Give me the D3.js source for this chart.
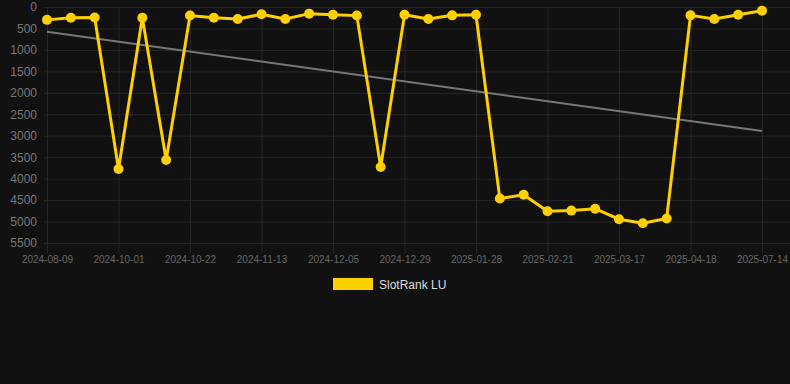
<!DOCTYPE html>
<html>
<head>
<meta charset="utf-8">
<script src="https://cdn.jsdelivr.net/npm/d3@7"></script>
<style>
  body { margin: 0; background: #111111; }
  text { font-family: "Liberation Sans", Arial, sans-serif; }
</style>
</head>
<body>
<div id="chart"></div>
<script>

// dates of each rank sample (every third one is labelled)
var dates = ["2024-08-09","2024-08-27","2024-09-14","2024-10-01","2024-10-08","2024-10-15",
  "2024-10-22","2024-10-29","2024-11-06","2024-11-13","2024-11-20","2024-11-28",
  "2024-12-05","2024-12-13","2024-12-21","2024-12-29","2025-01-08","2025-01-18",
  "2025-01-28","2025-02-05","2025-02-13","2025-02-21","2025-03-01","2025-03-09",
  "2025-03-17","2025-03-28","2025-04-08","2025-04-18","2025-05-17","2025-06-15","2025-07-14"]

var ranks = [300, 250, 245, 3775, 250, 3565, 200, 250, 280, 170, 280, 155,
  180, 200, 3730, 180, 280, 195, 180, 4465, 4375, 4760, 4745, 4700,
  4945, 5040, 4930, 195, 280, 180, 85]

var yTicks = [0, 500, 1000, 1500, 2000, 2500, 3000, 3500, 4000, 4500, 5000, 5500]

// trend line, first and last value
var trend = [575, 2890]

var seriesName = "SlotRank LU"

var width = 790, height = 384
var plotLeft = 47, plotRight = 762, plotTop = 7, plotBottom = 243

var svg = d3.select("#chart")
  .append("svg")
    .attr("width", width)
    .attr("height", height)

svg.append("rect")
  .attr("width", width)
  .attr("height", height)
  .attr("fill", "#111111")

var x = d3.scalePoint()
  .domain(dates)
  .range([plotLeft, plotRight])

var y = d3.scaleLinear()
  .domain([0, 5500])
  .range([plotTop, plotBottom])

// Y axis with horizontal grid
var yAxis = svg.append("g")
  .attr("transform", "translate(" + 44 + ",0)")
  .call(d3.axisLeft(y)
    .tickValues(yTicks)
    .tickFormat(d3.format("d"))
    .tickSize(-(width - 44))
    .tickPadding(7))
yAxis.select(".domain").remove()
yAxis.selectAll(".tick line").attr("stroke", "#262626")
yAxis.selectAll(".tick text")
  .attr("fill", "#777")
  .style("font-size", "12px")

// X axis with vertical grid at labelled dates
var xAxis = svg.append("g")
  .attr("transform", "translate(0," + 253 + ")")
  .call(d3.axisBottom(x)
    .tickValues(dates.filter(function(d, i) { return i % 3 === 0 }))
    .tickSize(-(253 - plotTop))
    .tickPadding(3))
xAxis.select(".domain").remove()
xAxis.selectAll(".tick line").attr("stroke", "#262626")
xAxis.selectAll(".tick text")
  .attr("fill", "#666")
  .style("font-size", "10px")

// trend line
svg.append("line")
  .attr("x1", x(dates[0]))
  .attr("y1", y(trend[0]))
  .attr("x2", x(dates[dates.length - 1]))
  .attr("y2", y(trend[1]))
  .attr("stroke", "#777")
  .attr("stroke-width", 2)

// rank line
var line = d3.line()
  .x(function(d, i) { return x(dates[i]) })
  .y(function(d) { return y(d) })

svg.append("path")
  .datum(ranks)
  .attr("d", line)
  .attr("fill", "none")
  .attr("stroke", "#FFD000")
  .attr("stroke-width", 3)
  .attr("stroke-linejoin", "miter")

svg.selectAll(".dot")
  .data(ranks)
  .enter()
  .append("circle")
    .attr("cx", function(d, i) { return x(dates[i]) })
    .attr("cy", function(d) { return y(d) })
    .attr("r", 5)
    .attr("fill", "#FFD000")

// legend
svg.append("rect")
  .attr("x", 333)
  .attr("y", 278)
  .attr("width", 40)
  .attr("height", 12)
  .attr("fill", "#FFD000")

svg.append("text")
  .attr("x", 379)
  .attr("y", 288.5)
  .attr("fill", "#ddd")
  .style("font-size", "12px")
  .text(seriesName)

</script>
</body>
</html>
